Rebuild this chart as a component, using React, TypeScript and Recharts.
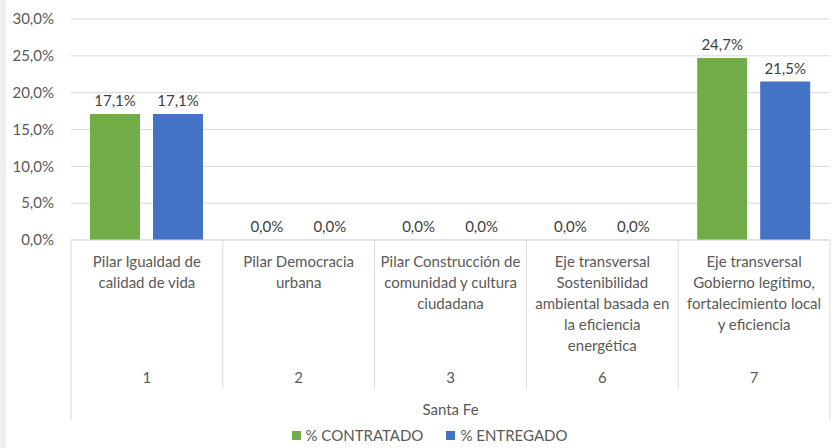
import React from "react";
import {
  BarChart,
  Bar,
  XAxis,
  YAxis,
  CartesianGrid,
  LabelList,
  Legend,
} from "recharts";

const codes = ["1", "2", "3", "6", "7"];
const categoryLines = [
  ["Pilar Igualdad de", "calidad de vida"],
  ["Pilar Democracia", "urbana"],
  ["Pilar Construcción de", "comunidad y cultura", "ciudadana"],
  ["Eje transversal", "Sostenibilidad", "ambiental basada en", "la eficiencia", "energética"],
  ["Eje transversal", "Gobierno legítimo,", "fortalecimiento local", "y eficiencia"],
];
const groupLabel = "Santa Fe";
const contratado = [17.1, 0, 0, 0, 24.7];
const entregado = [17.1, 0, 0, 0, 21.5];
const yTicks = [0, 5, 10, 15, 20, 25, 30];

const data = codes.map((code, i) => ({
  code,
  lines: categoryLines[i],
  contratado: contratado[i],
  entregado: entregado[i],
}));

const FONT = "Lato, 'Open Sans', sans-serif";
const TEXT = "#595959";
const LINE = "#d9d9d9";
const GREEN = "#70AD47";
const BLUE = "#4472C4";

const CHART_W = 830;
const CHART_H = 448;
const MARGIN = { top: 19, right: 6, bottom: 0, left: 7 };
const Y_W = 58;
const BAND = (CHART_W - MARGIN.left - MARGIN.right - Y_W) / codes.length;

const pct = (v: number) => v.toFixed(1).replace(".", ",") + "%";
// keep zero bars in the layout so their labels still show
const tinyForZero = (v: any) => (Number(v) === 0 ? 0.01 : 0);

function CategoryTick(props: any) {
  const { x, y, payload, index } = props;
  const row = data[index];
  const left = x - BAND / 2;
  const right = x + BAND / 2;
  const last = index === codes.length - 1;
  return (
    <g>
      <line x1={left} x2={left} y1={y} y2={index === 0 ? y + 180 : y + 148} stroke={LINE} />
      {last && <line x1={right} x2={right} y1={y} y2={y + 180} stroke={LINE} />}
      <text textAnchor="middle" fontFamily={FONT} fontSize={15} fill={TEXT}>
        {row.lines.map((l: string, k: number) => (
          <tspan key={k} x={x} y={y + 27 + k * 21}>
            {l}
          </tspan>
        ))}
      </text>
      <text x={x} y={y + 143} textAnchor="middle" fontFamily={FONT} fontSize={15} fill={TEXT}>
        {payload.value}
      </text>
      {index === 0 && (
        <text
          x={x + 2 * BAND}
          y={y + 175}
          textAnchor="middle"
          fontFamily={FONT}
          fontSize={15}
          fill={TEXT}
        >
          {groupLabel}
        </text>
      )}
    </g>
  );
}

function LegendContent() {
  const items = [
    { name: "% CONTRATADO", color: GREEN },
    { name: "% ENTREGADO", color: BLUE },
  ];
  return (
    <div
      style={{
        display: "flex",
        justifyContent: "center",
        gap: 23,
        height: 26,
        alignItems: "center",
        fontFamily: FONT,
        fontSize: 15,
        color: TEXT,
        paddingLeft: 16,
      }}
    >
      {items.map((it) => (
        <span key={it.name} style={{ display: "flex", alignItems: "center" }}>
          <span
            style={{
              display: "inline-block",
              width: 9,
              height: 9,
              background: it.color,
              marginRight: 5,
            }}
          />
          {it.name}
        </span>
      ))}
    </div>
  );
}

export default function App() {
  return (
    <div
      style={{
        position: "absolute",
        left: 0,
        top: 0,
        width: 836,
        height: 448,
        background: "#fff",
        boxSizing: "border-box",
        borderLeft: "6px solid #f0f0f0",
      }}
    >
      <BarChart
        width={CHART_W}
        height={CHART_H}
        data={data}
        margin={MARGIN}
        barCategoryGap={19}
        barGap={13}
      >
        <CartesianGrid vertical={false} stroke={LINE} />
        <XAxis
          dataKey="code"
          height={182}
          axisLine={{ stroke: LINE }}
          tickLine={false}
          tickSize={0}
          tickMargin={0}
          interval={0}
          tick={<CategoryTick />}
        />
        <YAxis
          width={Y_W}
          domain={[0, 30]}
          ticks={yTicks}
          axisLine={false}
          tickLine={false}
          tickSize={0}
          tickMargin={17}
          tickFormatter={pct}
          tick={{ fill: TEXT, fontFamily: FONT, fontSize: 15 }}
        />
        <Legend verticalAlign="bottom" height={26} content={<LegendContent />} />
        <Bar
          dataKey="contratado"
          name="% CONTRATADO"
          fill={GREEN}
          minPointSize={tinyForZero}
          isAnimationActive={false}
        >
          <LabelList
            dataKey="contratado"
            position="top"
            offset={8}
            formatter={(v: any) => pct(Number(v))}
            style={{ fill: "#404040", fontFamily: FONT, fontSize: 15 }}
          />
        </Bar>
        <Bar
          dataKey="entregado"
          name="% ENTREGADO"
          fill={BLUE}
          minPointSize={tinyForZero}
          isAnimationActive={false}
        >
          <LabelList
            dataKey="entregado"
            position="top"
            offset={8}
            formatter={(v: any) => pct(Number(v))}
            style={{ fill: "#404040", fontFamily: FONT, fontSize: 15 }}
          />
        </Bar>
      </BarChart>
    </div>
  );
}
